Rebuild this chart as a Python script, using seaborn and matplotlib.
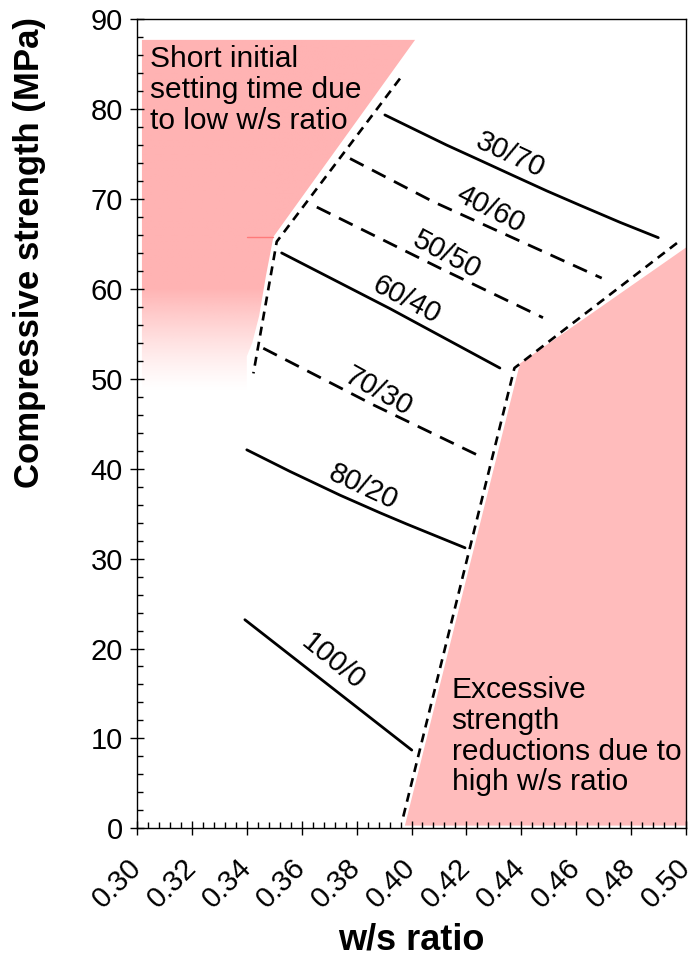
import numpy as np
import matplotlib
matplotlib.use("Agg")
import matplotlib.pyplot as plt
from matplotlib.patches import Polygon
from matplotlib.ticker import MultipleLocator
import seaborn as sns
import pandas as pd

# ---- data -------------------------------------------------------------
mix_labels = ["30/70", "40/60", "50/50", "60/40", "70/30", "80/20", "100/0"]

ws_30_70 = [0.3903, 0.4007, 0.4128, 0.4250, 0.4371, 0.4493, 0.4614, 0.4760, 0.4899]
fc_30_70 = [79.35, 77.8, 76.0, 74.3, 72.6, 70.9, 69.3, 67.4, 65.7]
ws_40_60 = [0.3776, 0.4079, 0.4693]
fc_40_60 = [74.5, 69.7, 61.2]
ws_50_50 = [0.3655, 0.4104, 0.4479]
fc_50_50 = [69.1, 62.3, 56.8]
ws_60_40 = [0.3527, 0.3922, 0.4322]
fc_60_40 = [64.0, 57.8, 51.2]
ws_70_30 = [0.3460, 0.3861, 0.4262]
fc_70_30 = [53.4, 47.1, 41.2]
ws_80_20 = [0.3400, 0.3557, 0.3740, 0.3885, 0.3982, 0.4195]
fc_80_20 = [42.1, 39.7, 37.05, 35.1, 33.85, 31.2]
ws_100_0 = [0.3393, 0.4001]
fc_100_0 = [23.2, 8.7]

# feasible-zone boundaries
low_ws_bound_x = [0.3958, 0.3509, 0.3424]
low_ws_bound_y = [83.4, 65.25, 50.6]
high_ws_bound_x = [0.4967, 0.4375, 0.3970]
high_ws_bound_y = [65.1, 51.2, 1.3]

# shaded zones
low_zone_x = [0.3018, 0.4013, 0.3497, 0.3470, 0.3445, 0.3420, 0.3400, 0.3400, 0.3018]
low_zone_y = [87.7, 87.7, 65.8, 61.5, 57.0, 54.0, 52.5, 48.5, 48.5]
high_zone_x = [0.3976, 0.4395, 0.5000, 0.5000]
high_zone_y = [0.3, 51.7, 64.6, 0.3]

x_ticks = [0.30, 0.32, 0.34, 0.36, 0.38, 0.40, 0.42, 0.44, 0.46, 0.48, 0.50]
y_ticks = [0, 10, 20, 30, 40, 50, 60, 70, 80, 90]

curves = pd.concat([
    pd.DataFrame({"ws": ws, "fc": fc, "mix": lab})
    for lab, ws, fc in zip(
        mix_labels,
        [ws_30_70, ws_40_60, ws_50_50, ws_60_40, ws_70_30, ws_80_20, ws_100_0],
        [fc_30_70, fc_40_60, fc_50_50, fc_60_40, fc_70_30, fc_80_20, fc_100_0],
    )
], ignore_index=True)

# ---- style ------------------------------------------------------------
sns.set_theme(style="ticks")
plt.rcParams["font.family"] = ["Liberation Sans", "DejaVu Sans"]
plt.rcParams.update({
    "axes.linewidth": 1.0,
    "text.color": "black",
    "axes.labelcolor": "black",
    "xtick.color": "black",
    "ytick.color": "black",
    "axes.edgecolor": "black",
})

PINK_LOW = "#ffb3b3"
PINK_HIGH = "#ffbcbc"

fig = plt.figure(figsize=(6.95, 9.65), dpi=100)
ax = fig.add_axes([137 / 695, 1 - 828.3 / 965, 549 / 695, 809.1 / 965])
ax.set_xlim(0.30, 0.50)
ax.set_ylim(0, 90)

# low w/s zone: solid pink fading out towards its lower end
low_poly = Polygon(list(zip(low_zone_x, low_zone_y)), closed=True,
                   facecolor="none", edgecolor="none")
ax.add_patch(low_poly)
yy = np.linspace(0, 90, 400)
alpha = np.clip((yy - 48.5) / (60.0 - 48.5), 0, 1) ** 1.3
rgba = np.zeros((len(yy), 2, 4))
rgba[..., :3] = matplotlib.colors.to_rgb(PINK_LOW)
rgba[..., 3] = alpha[:, None]
img = ax.imshow(rgba, extent=(0.30, 0.50, 0, 90), origin="lower",
                aspect="auto", zorder=0.5, interpolation="bilinear")
img.set_clip_path(low_poly)
ax.plot([0.3400, 0.3497], [65.8, 65.8], color="#ff7a7a", lw=1.0, zorder=0.6)

# high w/s zone
ax.add_patch(Polygon(list(zip(high_zone_x, high_zone_y)), closed=True,
                     facecolor=PINK_HIGH, edgecolor="none", zorder=0.5))

# strength curves per binder ratio
solid = {"30/70", "60/40", "80/20", "100/0"}
for lab in mix_labels:
    d = curves[curves["mix"] == lab]
    ls = "-" if lab in solid else (0, (5.5, 3.4))
    sns.lineplot(data=d, x="ws", y="fc", ax=ax, color="black", lw=2.0,
                 linestyle=ls, sort=False, estimator=None, legend=False,
                 zorder=3)

# zone boundaries
for bx, by in [(low_ws_bound_x, low_ws_bound_y), (high_ws_bound_x, high_ws_bound_y)]:
    ax.plot(bx, by, color="black", lw=1.9, linestyle=(0, (3.4, 2.4)), zorder=3)

# curve labels
label_pos = {
    "30/70": (0.4359, 74.9, -25),
    "40/60": (0.4289, 68.8, -27),
    "50/50": (0.4128, 63.8, -28),
    "60/40": (0.3982, 58.8, -28),
    "70/30": (0.3879, 48.6, -29),
    "80/20": (0.3825, 38.0, -25),
    "100/0": (0.3715, 18.5, -39),
}
for lab in mix_labels:
    x, y, rot = label_pos[lab]
    ax.text(x, y, lab, rotation=rot, ha="center", va="center",
            rotation_mode="anchor", fontsize=21, zorder=4)

ax.text(0.3047, 87.1, "Short initial\nsetting time due\nto low w/s ratio",
        ha="left", va="top", fontsize=21.5, zorder=4, linespacing=1.12)
ax.text(0.4146, 16.9, "Excessive\nstrength\nreductions due to\nhigh w/s ratio",
        ha="left", va="top", fontsize=21.5, zorder=4, linespacing=1.12)

# axes, ticks, labels
ax.set_xticks(x_ticks)
ax.set_xticklabels([f"{v:.2f}" for v in x_ticks], rotation=45, ha="right",
                   va="center", rotation_mode="anchor")
ax.set_yticks(y_ticks)
ax.xaxis.set_minor_locator(MultipleLocator(0.004))
ax.yaxis.set_minor_locator(MultipleLocator(2))
ax.tick_params(which="major", direction="inout", length=10.5, width=1.0,
               labelsize=21, pad=5)
ax.tick_params(axis="x", which="major", pad=20)
ax.tick_params(which="minor", direction="in", length=4.5, width=1.0)
ax.tick_params(top=False, right=False, which="both")
for s in ax.spines.values():
    s.set_visible(True)
    s.set_linewidth(1.0)

ax.set_xlabel("w/s ratio", fontsize=26, fontweight="bold")
ax.set_ylabel("Compressive strength (MPa)", fontsize=25, fontweight="bold")
ax.xaxis.set_label_coords(0.5, -0.138)
ax.xaxis.label.set_verticalalignment("center")
ax.yaxis.set_label_coords(-0.195, 0.712)
ax.yaxis.label.set_verticalalignment("center")

fig.savefig("out.png", dpi=100)
